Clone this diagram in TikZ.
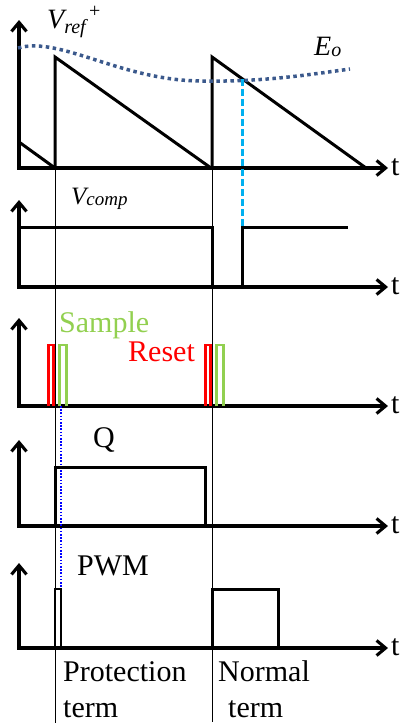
\documentclass[tikz,border=0pt]{standalone}
\usepackage{fontspec}
\setmainfont{Liberation Serif}
\usetikzlibrary{arrows.meta}
\definecolor{eoblue}{RGB}{59,89,140}
\definecolor{cyanl}{RGB}{0,176,240}
\definecolor{sgreen}{RGB}{146,208,80}
\definecolor{rred}{RGB}{255,0,0}
\definecolor{dblue}{RGB}{0,0,255}
\begin{document}
\begin{tikzpicture}[x=1pt,y=-1pt,
  axis/.style={line width=3.1pt,{Straight Barb[length=9pt,width=15pt]}-{Straight Barb[length=9pt,width=15pt]}},
  wave/.style={line width=3pt,line join=miter},
  thinline/.style={line width=1.1pt},
  redpulse/.style={draw=rred,line width=2.3pt},
  greenpulse/.style={draw=sgreen,line width=2.3pt},
  lbl/.style={anchor=base west,inner sep=0pt,font=\fontsize{30}{33}\selectfont},
  tlbl/.style={anchor=base west,inner sep=0pt,font=\fontsize{30}{33}\selectfont},
  eodot/.style={draw=eoblue,line width=3.5pt,dash pattern=on 3.5pt off 3.5pt},
  cyandash/.style={draw=cyanl,line width=3pt,dash pattern=on 7pt off 3pt},
  bluedot/.style={draw=dblue,line width=2.3pt,dash pattern=on 1.6pt off 1.6pt}]
\useasboundingbox (0,0) rectangle (401,728);
% thin term separators
\draw[thinline] (55.5,113) -- (55.5,723);
\draw[thinline] (212.5,113) -- (212.5,722);
% axes
\foreach \b/\tp/\n in {168/20/a,287/200/b,406/318/c,526/440/d,648/563/e}{
  \draw[axis] (19,\tp) -- (19,\b) -- (388,\b);
  \node[tlbl] (t\n) at (391,\b+7) {t};
}
% panel 1: sawtooth
\draw[wave] (19,142) -- (55,168);
\draw[wave] (55,168) -- (55,57) -- (211,168);
\draw[wave] (212,168) -- (212,57) -- (366,168);
\draw[eodot] (18,48) .. controls (60,36) and (120,80) .. (200,81) .. controls (260,82) and (300,76) .. (350,69);
\coordinate (cross) at (242,79);
\coordinate (cmpup) at (242,227);
\draw[cyandash] (cross) -- (cmpup);
\node[anchor=base west,inner sep=0pt] (vref) at (47,28) {\fontsize{28}{28}\selectfont\itshape V\raisebox{-5pt}{\fontsize{20}{20}\selectfont ref}\raisebox{11pt}{\upshape\fontsize{20}{20}\selectfont\,+}};
\node[anchor=base west,inner sep=0pt] (eo) at (314,55) {\fontsize{28}{28}\selectfont\itshape E\raisebox{-1pt}{\fontsize{20}{20}\selectfont o}};
% panel 2: comparator
\draw[wave] (19,227) -- (212,227) -- (212,287);
\draw[wave] (242,287) -- (cmpup) -- (348,227);
\node[anchor=base west,inner sep=0pt] (vcomp) at (71,204) {\fontsize{25}{25}\selectfont\itshape V\raisebox{-1pt}{\fontsize{19}{19}\selectfont comp}};
% panel 3: sample / reset
\draw[redpulse] (48.5,406) -- (48.5,345) -- (53.5,345) -- (53.5,406);
\draw[greenpulse] (59.5,406) -- (59.5,345) -- (66.5,345) -- (66.5,406);
\draw[redpulse] (205.5,406) -- (205.5,345) -- (210.5,345) -- (210.5,406);
\draw[greenpulse] (216.5,406) -- (216.5,345) -- (223.5,345) -- (223.5,406);
\node[lbl,text=sgreen] (sample) at (59,332) {Sample};
\node[lbl,text=rred] (reset) at (128,361) {Reset};
% blue dotted
\coordinate (bd1) at (61,406);
\coordinate (bd2) at (61,588);
\draw[bluedot] (bd1) -- (bd2);
% panel 4: Q
\draw[wave] (55,526) -- (55,467) -- (205,467) -- (205,526);
\node[lbl] (q) at (93,447) {Q};
% panel 5: PWM
\draw[line width=2.3pt] (55,648) -- (55,589) -- (61,589) -- (61,648);
\draw[wave] (212,648) -- (212,589) -- (278,589) -- (278,648);
\node[lbl] (pwm) at (77,575) {PWM};
% term labels
\node[lbl] (prot) at (63,681) {Protection};
\node[lbl] (term1) at (63,717) {term};
\node[lbl] (norm) at (218,681) {Normal};
\node[lbl] (term2) at (228,717) {term};
\end{tikzpicture}
\end{document}
